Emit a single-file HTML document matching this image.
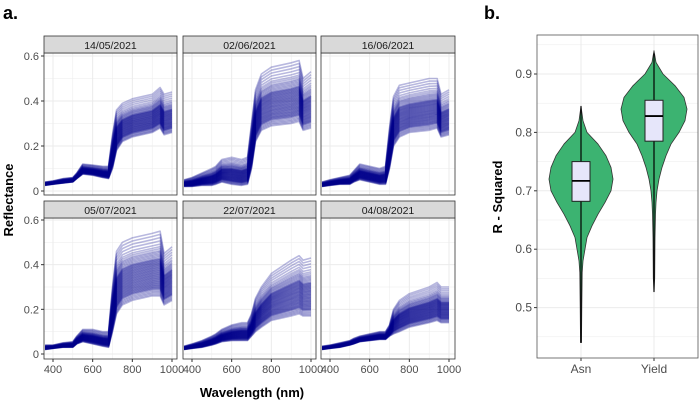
<!DOCTYPE html>
<html><head><meta charset="utf-8">
<style>
body{margin:0;background:#fff;}
svg{display:block;font-family:"Liberation Sans","DejaVu Sans",sans-serif;}
</style></head>
<body>
<svg id="fig" width="700" height="404" viewBox="0 0 700 404" xmlns="http://www.w3.org/2000/svg">
<text x="3" y="19" font-size="18" font-weight="bold" fill="#000">a.</text>
<text x="484" y="19" font-size="18" font-weight="bold" fill="#000">b.</text>
<text transform="translate(13,200) rotate(-90)" text-anchor="middle" font-size="13" font-weight="bold">Reflectance</text>
<text x="252" y="397" text-anchor="middle" font-size="13" font-weight="bold">Wavelength (nm)</text>
<text transform="translate(502,197) rotate(-90)" text-anchor="middle" font-size="13" font-weight="bold">R - Squared</text>
<g id="spectra"></g>
<g id="violin"></g>
</svg>
<script>
const NS="http://www.w3.org/2000/svg";
const wavelengths=[360,400,450,500,520,550,600,650,680,700,720,750,800,900,940,960,1000];
const dates=["14/05/2021","02/06/2021","16/06/2021","05/07/2021","22/07/2021","04/08/2021"];
const lowCurves=[
[0.025,0.03,0.035,0.04,0.055,0.075,0.07,0.06,0.055,0.1,0.18,0.22,0.24,0.26,0.28,0.25,0.26],
[0.02,0.02,0.025,0.025,0.03,0.04,0.03,0.025,0.03,0.1,0.22,0.27,0.29,0.3,0.31,0.27,0.28],
[0.02,0.025,0.03,0.03,0.04,0.05,0.04,0.03,0.03,0.1,0.2,0.24,0.26,0.27,0.28,0.24,0.25],
[0.02,0.025,0.03,0.03,0.045,0.055,0.045,0.035,0.03,0.1,0.18,0.22,0.24,0.26,0.26,0.22,0.24],
[0.02,0.025,0.03,0.04,0.045,0.055,0.06,0.06,0.06,0.08,0.1,0.12,0.15,0.17,0.18,0.17,0.17],
[0.02,0.025,0.03,0.04,0.045,0.055,0.06,0.065,0.065,0.08,0.09,0.1,0.12,0.14,0.15,0.14,0.14]];
const highCurves=[
[0.04,0.045,0.055,0.06,0.08,0.12,0.115,0.11,0.11,0.25,0.36,0.39,0.41,0.43,0.46,0.43,0.44],
[0.05,0.06,0.08,0.1,0.11,0.14,0.15,0.14,0.15,0.3,0.45,0.52,0.55,0.57,0.58,0.5,0.53],
[0.04,0.05,0.06,0.07,0.09,0.12,0.11,0.1,0.11,0.28,0.42,0.47,0.48,0.5,0.5,0.43,0.45],
[0.04,0.04,0.05,0.055,0.08,0.11,0.11,0.1,0.1,0.3,0.46,0.5,0.52,0.54,0.55,0.45,0.48],
[0.035,0.045,0.06,0.08,0.09,0.11,0.13,0.14,0.14,0.18,0.25,0.3,0.36,0.42,0.44,0.42,0.43],
[0.035,0.04,0.05,0.06,0.07,0.08,0.09,0.1,0.1,0.13,0.2,0.24,0.27,0.3,0.32,0.3,0.3]];
const fractions=[0,0.02,0.04,0.06,0.08,0.1,0.11,0.12,0.13,0.14,0.15,0.16,0.17,0.18,0.19,0.2,0.21,0.22,0.23,0.24,0.25,0.26,0.27,0.28,0.29,0.3,0.31,0.32,0.33,0.34,0.35,0.36,0.37,0.38,0.39,0.4,0.41,0.42,0.43,0.44,0.45,0.46,0.47,0.48,0.49,0.5,0.51,0.52,0.53,0.54,0.55,0.56,0.57,0.58,0.6,0.62,0.64,0.66,0.68,0.7,0.73,0.76,0.8,0.85,0.9,0.95,1];
const xTicks=[400,600,800,1000];
const yTicks=[0,0.2,0.4,0.6];

const panelX=[[44,177],[183,316],[321,455]];
const rows=[{strip:36,top:53,bot:195,y0:191,y6:56},{strip:201,top:218,bot:359,y0:354,y6:220}];
const sg=document.getElementById('spectra');
function mk(tag,attrs,parent){const e=document.createElementNS(NS,tag);for(const k in attrs)e.setAttribute(k,attrs[k]);parent.appendChild(e);return e;}
dates.forEach((d,i)=>{
  const r=rows[Math.floor(i/3)], c=panelX[i%3];
  const xs=w=>53+(w-400)*(119/600)+(c[0]-44);
  const ys=v=>r.y0-(v/0.6)*(r.y0-r.y6);
  const g=mk('g',{},sg);
  
  
  mk('rect',{x:c[0],y:r.top,width:c[1]-c[0],height:r.bot-r.top,fill:'#fff'},g);
  for(let w=400;w<=1000;w+=100){mk('line',{x1:xs(w),x2:xs(w),y1:r.top,y2:r.bot,stroke:'#ebebeb','stroke-width':w%200?0.5:1},g);}
  for(let v=0;v<=0.6001;v+=0.1){mk('line',{x1:c[0],x2:c[1],y1:ys(v),y2:ys(v),stroke:'#ebebeb','stroke-width':Math.round(v*10)%2?0.5:1},g);}
  fractions.forEach(f=>{
    const pts=wavelengths.map((w,k)=>xs(w).toFixed(1)+','+ys(lowCurves[i][k]+f*(highCurves[i][k]-lowCurves[i][k])).toFixed(1)).join(' ');
    const p=mk('polyline',{points:pts,fill:'none',stroke:'#00008b','stroke-opacity':0.28,'stroke-width':1.6,'stroke-linejoin':'round'},g);
    
    
  });
  mk('rect',{x:c[0],y:r.top,width:c[1]-c[0],height:r.bot-r.top,fill:'none',stroke:'#333','stroke-width':0.8},g);
  const st=mk('rect',{x:c[0],y:r.strip,width:c[1]-c[0],height:r.top-r.strip,fill:'#d9d9d9',stroke:'#333','stroke-width':0.8},g);
  
  
  const t=mk('text',{x:(c[0]+c[1])/2,y:r.top-4,'text-anchor':'middle','font-size':10.5,fill:'#1a1a1a'},g);t.textContent=d;
  
  
  if(i%3===0){yTicks.forEach(v=>{mk('line',{x1:c[0]-3,x2:c[0],y1:ys(v),y2:ys(v),stroke:'#333'},g);
    const tt=mk('text',{x:c[0]-5,y:ys(v)+4,'text-anchor':'end','font-size':11,fill:'#4d4d4d'},g);tt.textContent=v===0?'0':v.toFixed(1);
    
    });}
  if(i>=3){xTicks.forEach(w=>{mk('line',{x1:xs(w),x2:xs(w),y1:r.bot,y2:r.bot+3,stroke:'#333'},g);
    const tt=mk('text',{x:xs(w),y:r.bot+14,'text-anchor':'middle','font-size':11,fill:'#4d4d4d'},g);tt.textContent=w;
    
    });}
});

// Violin
const groups=["Asn","Yield"];
const densY=[[0.845,0.82,0.8,0.78,0.76,0.74,0.72,0.7,0.68,0.66,0.64,0.62,0.6,0.58,0.56,0.5,0.44],
[0.94,0.92,0.9,0.88,0.86,0.84,0.82,0.8,0.78,0.76,0.74,0.72,0.7,0.68,0.66,0.62,0.55,0.527]];
const densW=[[0,2,6,17,25,30,32,30,24,17,11,6,4,2,1.2,0.8,0.5],
[0,2,9,21,30,33,31,25,17,12,8,5,3,2,1.5,1,0.7,0]];
const q1=[0.682,0.785], med=[0.717,0.828], q3=[0.75,0.855], wLo=[0.44,0.527], wHi=[0.845,0.935];
const rTicks=[0.5,0.6,0.7,0.8,0.9];
const vg=document.getElementById('violin');
const L=537,R=698,T=35,B=358;
const ry=v=>74+(0.9-v)*584;
const gx=[581,654];
mk('rect',{x:L,y:T,width:R-L,height:B-T,fill:'#fff'},vg);
for(let v=0.45;v<=0.951;v+=0.05){mk('line',{x1:L,x2:R,y1:ry(v),y2:ry(v),stroke:'#ebebeb','stroke-width':Math.round(v*100)%10?0.5:1},vg);}
gx.forEach(x=>mk('line',{x1:x,x2:x,y1:T,y2:B,stroke:'#ebebeb'},vg));
groups.forEach((gname,i)=>{
  const x=gx[i];
  let d='M'+x+','+ry(densY[i][0]);
  densY[i].forEach((v,k)=>{d+=' L'+(x+densW[i][k])+','+ry(v);});
  for(let k=densY[i].length-1;k>=0;k--){d+=' L'+(x-densW[i][k])+','+ry(densY[i][k]);}
  d+='Z';
  const p=mk('path',{d:d,fill:'#3cb371',stroke:'#333','stroke-width':0.8,'stroke-linejoin':'round'},vg);
  
  
  mk('line',{x1:x,x2:x,y1:ry(wLo[i]),y2:ry(wHi[i]),stroke:'#000','stroke-width':1.2},vg);
  const b=mk('rect',{x:x-9,y:ry(q3[i]),width:18,height:ry(q1[i])-ry(q3[i]),fill:'#e6e6fa',stroke:'#222','stroke-width':1},vg);
  
  
  mk('line',{x1:x-9,x2:x+9,y1:ry(med[i]),y2:ry(med[i]),stroke:'#000','stroke-width':1.8},vg);
  mk('line',{x1:x,x2:x,y1:B,y2:B+3,stroke:'#333'},vg);
  const t=mk('text',{x:x,y:B+15,'text-anchor':'middle','font-size':12,fill:'#4d4d4d'},vg);t.textContent=gname;
  
  
});
rTicks.forEach(v=>{mk('line',{x1:L-3,x2:L,y1:ry(v),y2:ry(v),stroke:'#333'},vg);
  const t=mk('text',{x:L-5,y:ry(v)+4,'text-anchor':'end','font-size':12,fill:'#4d4d4d'},vg);t.textContent=v.toFixed(1);
  
  });
mk('rect',{x:L,y:T,width:R-L,height:B-T,fill:'none',stroke:'#555','stroke-width':0.8},vg);
</script>
</body></html>
